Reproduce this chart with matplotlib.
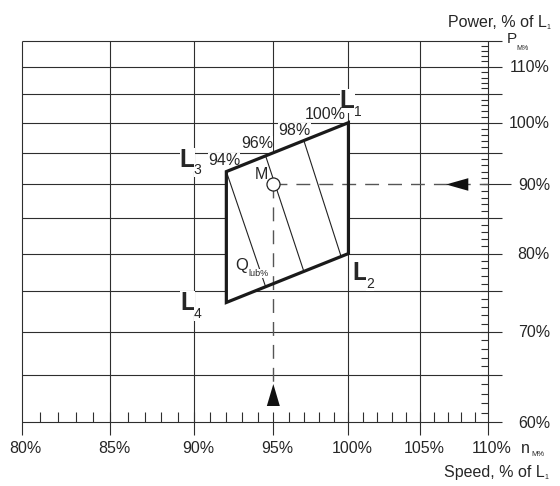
import matplotlib
matplotlib.use("Agg")
import matplotlib.pyplot as plt
from matplotlib.patches import Polygon

plt.rcParams['font.family'] = ['Liberation Sans', 'DejaVu Sans']

# ---- data (percent of L1) ----
speed_ticks = [80, 85, 90, 95, 100, 105, 110]
speed_tick_labels = ['80%', '85%', '90%', '95%', '100%', '105%', '110%']
speed_minor = list(range(81, 110))
power_grid = [60, 65, 70, 75, 80, 85, 90, 95, 100, 105, 110, 115]
power_ticks = [60, 70, 80, 90, 100, 110]
power_tick_labels = ['60%', '70%', '80%', '90%', '100%', '110%']
power_minor = list(range(61, 115))

# layout diagram corners L1, L2, L4, L3 (speed %, power %)
corner_names = ['1', '2', '4', '3']
corner_speed = [100.0, 100.0, 92.0, 92.0]
corner_power = [100.0, 80.0, 73.6, 92.0]

# iso-lines inside the diagram: upper and lower end points
iso_labels = ['94%', '96%', '98%', '100%']
iso_top_speed = [92.0, 94.5, 97.0, 100.0]
iso_top_power = [92.0, 94.5, 97.0, 100.0]
iso_bot_speed = [94.5, 97.0, 99.5]
iso_bot_power = [75.6, 77.6, 79.6]

# specified MCR point M
m_speed = 95.0
m_power = 90.0

# ---- figure ----
W, H, DPI = 560, 486, 100
fig = plt.figure(figsize=(W / DPI, H / DPI), dpi=DPI)
FL, FR, FT, FB = 21.7, 488.0, 40.7, 422.3   # frame in pixels
ax = fig.add_axes([FL / W, 1 - FB / H, (FR - FL) / W, (FB - FT) / H])
ax.set_xscale('log')
ax.set_yscale('log')
ax.set_xlim(speed_ticks[0], speed_ticks[-1])
ax.set_ylim(power_grid[0], power_grid[-1])
ax.set_axis_off()

GC = '#2e2e2e'
TC = '#262626'
LW = 0.8
XMIN, XMAX = speed_ticks[0], speed_ticks[-1]
YMIN, YMAX = power_grid[0], power_grid[-1]


def shift(x, y, dx, dy):
    """Data point moved by (dx, dy) pixels."""
    px, py = ax.transData.transform((x, y))
    k = fig.dpi / 100.0
    return ax.transData.inverted().transform((px + dx * k, py + dy * k))


def seg(p0, p1, **kw):
    kw.setdefault('color', GC)
    kw.setdefault('lw', LW)
    kw.setdefault('zorder', 1)
    kw.setdefault('solid_capstyle', 'butt')
    ax.plot([p0[0], p1[0]], [p0[1], p1[1]], clip_on=False, **kw)


# vertical grid lines
for s in speed_ticks:
    low = shift(s, YMIN, 0, -13)
    if s == m_speed:
        seg(low, (s, YMIN))
        seg((s, YMAX), (s, s))          # ends at the L1-L3 line
    else:
        seg(low, (s, YMAX))

# horizontal grid lines
for p in power_grid:
    right = shift(XMAX, p, 14, 0)
    if p == m_power:
        seg((XMIN, p), (corner_speed[3], p))
        seg(shift(XMAX, p, -5, 0), shift(XMAX, p, 23, 0))
    else:
        seg((XMIN, p), right)

# minor ticks
for s in speed_minor:
    seg((s, YMIN), shift(s, YMIN, 0, 10.6))
for p in power_minor:
    seg((XMAX, p), shift(XMAX, p, -7, 0))

# diagram area
pts = list(zip(corner_speed, corner_power))
ax.add_patch(Polygon(pts, closed=True, facecolor='white', edgecolor='none', zorder=2))
ax.add_patch(Polygon(pts, closed=True, facecolor='none', edgecolor='#1a1a1a',
                     lw=2.3, joinstyle='miter', zorder=4))

for ts, tp, bs, bp in zip(iso_top_speed, iso_top_power, iso_bot_speed, iso_bot_power):
    ax.plot([ts, bs], [tp, bp], color='#222222', lw=0.8, zorder=2.5)

# dashed lines from M and arrows
dash = (0, (10, 6.5))
h_tip = shift(XMAX, m_power, -42, 0)
v_tip = shift(m_speed, YMIN, 0, 38.3)
v_base = shift(m_speed, YMIN, 0, 16.3)
ax.plot([m_speed, XMAX], [m_power, m_power], color='#555555', lw=1.0,
        linestyle=dash, zorder=2.6, clip_on=False)
ax.plot([m_speed, m_speed], [m_power, v_base[1]], color='#555555', lw=1.0,
        linestyle=dash, zorder=2.6, clip_on=False)
ax.add_patch(Polygon([h_tip, shift(XMAX, m_power, -19.7, 6.3),
                      shift(XMAX, m_power, -19.7, -6.3)],
                     closed=True, facecolor='#111111', edgecolor='none', zorder=5))
ax.add_patch(Polygon([v_tip, shift(m_speed, YMIN, -6.5, 16.3),
                      shift(m_speed, YMIN, 6.5, 16.3)],
                     closed=True, facecolor='#111111', edgecolor='none', zorder=5))
ax.plot([m_speed], [m_power], 'o', ms=9.4, mfc='white', mec='#222222', mew=0.9,
        zorder=6)


def label(txt, xy, dx, dy, size, ha='left', va='baseline', box=False, pad=1.0,
          z=3, coords='data', weight='normal'):
    kw = dict(xy=xy, xytext=(dx, dy), textcoords='offset pixels', xycoords=coords,
              fontsize=size, ha=ha, va=va, color=TC, zorder=z,
              annotation_clip=False, fontweight=weight)
    if box:
        kw['bbox'] = dict(boxstyle='square,pad=0', facecolor='white',
                          edgecolor='none', pad=pad)
    ax.annotate(txt, **kw)


# corner labels L1..L4
corner_off = {'1': (-8.6, 14.4), '2': (3.7, -26.5), '4': (-46.2, -7.6), '3': (-46.5, 4.9)}
for name, s, p in zip(corner_names, corner_speed, corner_power):
    dx, dy = corner_off[name]
    label('L', (s, p), dx, dy, 18, box=True, weight='bold')
    label(name, (s, p), dx + 13.8, dy - 7.5, 10, box=True)

# iso-line percentages
iso_off = [(-2.3, 6.6), (-8.2, 7.8), (-9.3, 6.0), (-23.4, 3.2)]
for i, (txt, s, p) in enumerate(zip(iso_labels, iso_top_speed, iso_top_power)):
    dx, dy = iso_off[i]
    label(txt, (s, p), dx, dy, 11.5, ha='center', box=(i < 3))

# M and Q_lub%
label('M', (m_speed, m_power), -5.3, 5.5, 11.5, ha='right')
label('Q', (iso_bot_speed[0], iso_bot_power[0]), -30, 17, 12, box=True)
label('lub%', (iso_bot_speed[0], iso_bot_power[0]), -17.3, 11, 6.5, box=True, pad=0.5)

# axis tick labels
for s, t in zip(speed_ticks, speed_tick_labels):
    label(t, (s, YMIN), 4, -31, 11.5, ha='center')
for p, t in zip(power_ticks, power_tick_labels):
    label(t, (XMAX, p), 62, -5.5, 11.5, ha='right')

label('n', (XMAX, YMIN), 32.7, -31, 11.5)
label('M%', (XMAX, YMIN), 43, -33.7, 5.5)
label('P', (XMAX, YMAX), 18.4, -2.6, 11)
label('M%', (XMAX, YMAX), 28.2, -9.3, 5)

# axis titles
label('Power, % of L', (546.5, H - 26.7), 0, 0, 11.5, ha='right', coords='figure pixels')
label('1', (546.8, H - 28.5), 0, 0, 5, coords='figure pixels')
label('Speed, % of L', (544.5, H - 477), 0, 0, 11.5, ha='right', coords='figure pixels')
label('1', (544.8, H - 478.8), 0, 0, 5, coords='figure pixels')

fig.savefig('out.png', dpi=DPI, facecolor='white')
